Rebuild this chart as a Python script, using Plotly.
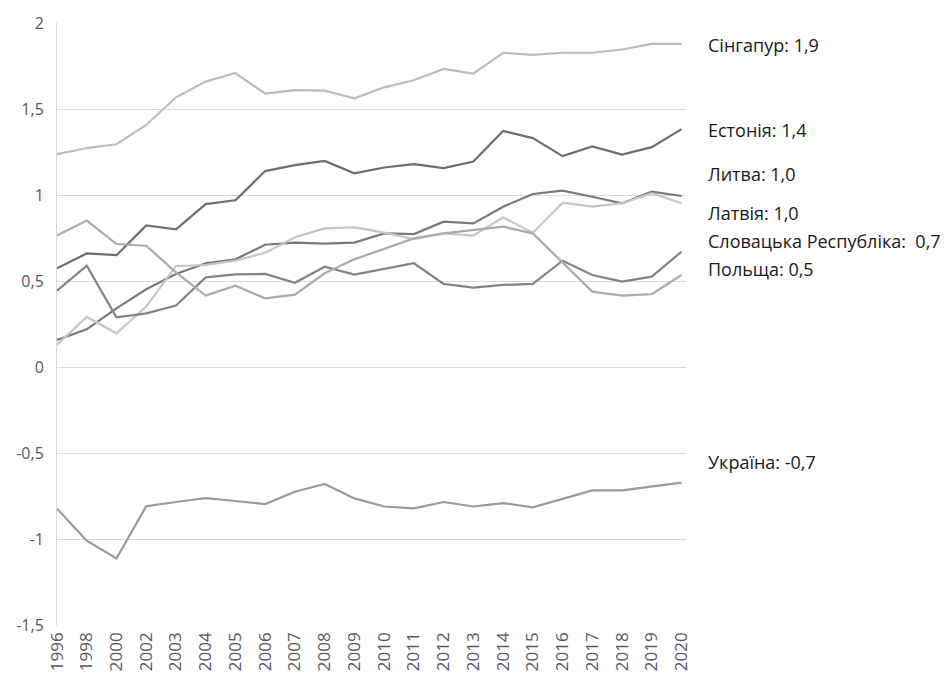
import plotly.graph_objects as go

years = ["1996", "1998", "2000", "2002", "2003", "2004", "2005", "2006", "2007", "2008",
         "2009", "2010", "2011", "2012", "2013", "2014", "2015", "2016", "2017", "2018",
         "2019", "2020"]

singapore = [1.238, 1.273, 1.295, 1.407, 1.568, 1.659, 1.709, 1.589, 1.610, 1.607,
             1.562, 1.626, 1.667, 1.733, 1.706, 1.827, 1.815, 1.827, 1.827, 1.846,
             1.879, 1.879]
estonia = [0.574, 0.660, 0.650, 0.823, 0.801, 0.947, 0.969, 1.139, 1.174, 1.198,
           1.126, 1.160, 1.179, 1.156, 1.195, 1.372, 1.331, 1.226, 1.282, 1.235,
           1.278, 1.383]
lithuania = [0.157, 0.219, 0.341, 0.452, 0.541, 0.603, 0.626, 0.711, 0.723, 0.717,
             0.723, 0.777, 0.773, 0.845, 0.835, 0.932, 1.006, 1.025, 0.990, 0.952,
             1.019, 0.994]
latvia = [0.130, 0.291, 0.196, 0.351, 0.587, 0.593, 0.618, 0.665, 0.754, 0.806,
          0.812, 0.781, 0.744, 0.777, 0.764, 0.870, 0.781, 0.955, 0.932, 0.952,
          1.010, 0.952]
slovakia = [0.444, 0.589, 0.289, 0.312, 0.357, 0.521, 0.539, 0.541, 0.490, 0.583,
            0.537, 0.570, 0.603, 0.483, 0.461, 0.477, 0.483, 0.618, 0.535, 0.496,
            0.525, 0.671]
poland = [0.764, 0.851, 0.715, 0.705, 0.550, 0.415, 0.473, 0.399, 0.421, 0.545,
          0.626, 0.686, 0.748, 0.777, 0.797, 0.816, 0.777, 0.610, 0.438, 0.415,
          0.424, 0.535]
ukraine = [-0.824, -1.010, -1.113, -0.809, -0.785, -0.762, -0.779, -0.797, -0.725, -0.680,
           -0.764, -0.811, -0.822, -0.785, -0.811, -0.791, -0.816, -0.766, -0.717, -0.717,
           -0.695, -0.672]

series_names = ["Сінгапур", "Естонія", "Литва", "Латвія", "Словацька Республіка", "Польща", "Україна"]
series_values = [singapore, estonia, lithuania, latvia, slovakia, poland, ukraine]
series_colors = ["#BDBDBD", "#6E6E6E", "#7A7A7A", "#C6C6C6", "#848484", "#ABABAB", "#9A9A9A"]

label_texts = ["Сінгапур: 1,9", "Естонія: 1,4", "Литва: 1,0", "Латвія: 1,0",
               "Словацька Республіка:  0,7", "Польща: 0,5", "Україна: -0,7"]
label_y = [1.875, 1.38, 1.125, 0.898, 0.730, 0.567, -0.555]

y_ticks = [2, 1.5, 1, 0.5, 0, -0.5, -1, -1.5]
y_tick_text = ["2", "1,5", "1", "0,5", "0", "-0,5", "-1", "-1,5"]

fig = go.Figure()
for name, vals, col in zip(series_names, series_values, series_colors):
    fig.add_trace(go.Scatter(x=years, y=vals, mode="lines", name=name,
                             line=dict(color=col, width=2.2), showlegend=False))

for txt, yv in zip(label_texts, label_y):
    fig.add_annotation(x=1, xref="paper", xshift=20, xanchor="left",
                       y=yv, yref="y", yanchor="middle", text=txt, showarrow=False,
                       font=dict(family="Open Sans", size=18, color="#1a1a1a"))

fig.update_layout(
    width=935, height=663,
    margin=dict(l=49, r=257, t=15, b=46),
    paper_bgcolor="white", plot_bgcolor="white",
    font=dict(family="Open Sans", color="#595959"),
    xaxis=dict(type="category", range=[0, 21.15], showgrid=False,
               tickangle=-90, tickfont=dict(size=17, color="#595959"),
               showline=False, zeroline=False, ticks="", automargin=False,
               ticklabelstandoff=3),
    yaxis=dict(range=[-1.5, 2], tickvals=y_ticks, ticktext=y_tick_text,
               tickfont=dict(size=16, color="#595959"),
               showgrid=True, gridcolor="#DADADA", gridwidth=1,
               zeroline=False, showline=True, linecolor="#D6D6D6", linewidth=1,
               ticks="", ticklabelstandoff=9, automargin=False),
)

fig.write_html("out.html")
